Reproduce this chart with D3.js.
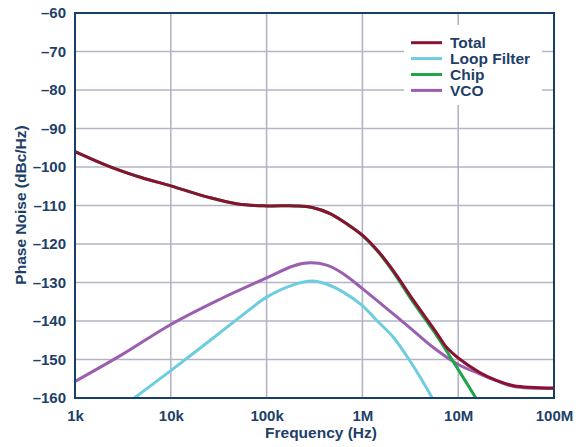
<!DOCTYPE html>
<html>
<head>
<meta charset="utf-8">
<script src="https://cdn.jsdelivr.net/npm/d3@7/dist/d3.min.js"></script>
<style>
  body { margin: 0; background: #fff; }
  svg text { font-family: "Liberation Sans", Arial, sans-serif; font-weight: bold; fill: #1d3f68; }
</style>
</head>
<body>
<svg id="chart" width="583" height="447"></svg>
<script>
// Tick values and labels
var freqTicks = [1e3, 1e4, 1e5, 1e6, 1e7, 1e8];
var freqLabels = ["1k", "10k", "100k", "1M", "10M", "100M"];
var dbTicks = [-160, -150, -140, -130, -120, -110, -100, -90, -80, -70, -60];

// Series (frequency in Hz, phase noise in dBc/Hz)
var totalFreq = [1e3, 2.3e3, 5e3, 1e4, 2.5e4, 5e4, 1e5, 2e5, 3e5, 4.6e5, 6.8e5, 1e6, 1.5e6, 2.2e6, 3.4e6, 5.7e6, 7.6e6, 1e7, 1.66e7, 2.5e7, 3.8e7, 1e8];
var totalDb   = [-96, -99.9, -102.8, -104.9, -107.9, -109.6, -110.1, -110.1, -110.5, -112.1, -114.7, -117.7, -122.2, -127.6, -134.6, -142.4, -146.9, -149.6, -153.3, -155.4, -156.8, -157.4];

var loopFreq = [4e3, 1e4, 3.16e4, 6e4, 1e5, 1.9e5, 3e5, 4.2e5, 6.3e5, 1e6, 1.38e6, 2.1e6, 3.14e6, 5.3e6, 5.6e6];
var loopDb   = [-160.3, -152.9, -143.3, -137.9, -133.8, -130.6, -129.6, -130.4, -132.5, -136, -139.6, -144.2, -150.4, -159.8, -161];

var chipFreq = [1e3, 2.3e3, 5e3, 1e4, 2.5e4, 5e4, 1e5, 2e5, 3e5, 4.6e5, 6.8e5, 1e6, 1.5e6, 2.2e6, 3.4e6, 5.6e6, 1e7, 1.6e7];
var chipDb   = [-96, -99.9, -102.8, -104.9, -107.9, -109.6, -110.1, -110.1, -110.5, -112.1, -114.7, -117.8, -122.4, -128, -135.2, -142.8, -152.6, -160.8];

var vcoFreq = [1e3, 3.16e3, 1e4, 3.16e4, 1e5, 1.9e5, 2.84e5, 4.24e5, 6.3e5, 1e6, 1.8e6, 3.14e6, 5.5e6, 1e7, 1.66e7, 2.5e7, 3.8e7, 1e8];
var vcoDb   = [-155.7, -148.6, -140.9, -134.5, -128.8, -125.7, -124.9, -125.5, -127.7, -131.6, -136.8, -141.8, -146.9, -151.3, -153.7, -155.5, -157, -157.5];

var seriesNames = ["Total", "Loop Filter", "Chip", "VCO"];
var seriesColors = ["#8a1230", "#6ccde0", "#1fa64a", "#9a5fb0"];

var margin = {top: 13, right: 29, bottom: 49, left: 75},
    width = 583 - margin.left - margin.right,
    height = 447 - margin.top - margin.bottom;

var svg = d3.select("#chart");
var g = svg.append("g").attr("transform", "translate(" + margin.left + "," + margin.top + ")");

var x = d3.scaleLog().domain([1e3, 1e8]).range([0, width]);
var y = d3.scaleLinear().domain([-160, -60]).range([height, 0]);

// gridlines
g.selectAll(".vgrid").data(freqTicks.slice(1, -1)).enter().append("line")
    .attr("x1", function(d) { return x(d); }).attr("x2", function(d) { return x(d); })
    .attr("y1", 0).attr("y2", height)
    .attr("stroke", "#b3b5c7").attr("stroke-width", 1.6);
g.selectAll(".hgrid").data(dbTicks.slice(1, -1)).enter().append("line")
    .attr("y1", function(d) { return y(d); }).attr("y2", function(d) { return y(d); })
    .attr("x1", 0).attr("x2", width)
    .attr("stroke", "#b3b5c7").attr("stroke-width", 1.6);

// legend background hides grid
g.append("rect").attr("x", 329).attr("y", 12).attr("width", 138).attr("height", 80).attr("fill", "#fff");

// curves
var line = d3.line()
    .x(function(d) { return x(d[0]); })
    .y(function(d) { return y(d[1]); })
    .curve(d3.curveCatmullRom.alpha(0.5));

g.append("clipPath").attr("id", "clip").append("rect").attr("width", width).attr("height", height);

var series = [
  d3.zip(totalFreq, totalDb),
  d3.zip(loopFreq, loopDb),
  d3.zip(chipFreq, chipDb),
  d3.zip(vcoFreq, vcoDb)
];
// draw order: loop filter, vco, chip, total on top
[1, 3, 2, 0].forEach(function(i) {
  g.append("path")
    .datum(series[i])
    .attr("clip-path", "url(#clip)")
    .attr("fill", "none")
    .attr("stroke", seriesColors[i])
    .attr("stroke-width", 3)
    .attr("d", line);
});

// frame
g.append("rect").attr("width", width).attr("height", height)
    .attr("fill", "none").attr("stroke", "#173f6a").attr("stroke-width", 2);

// axes
var xAxis = d3.axisBottom(x).tickValues(freqTicks).tickSize(0).tickPadding(12)
    .tickFormat(function(d, i) { return freqLabels[i]; });
var gx = g.append("g").attr("transform", "translate(0," + height + ")").call(xAxis);
gx.select(".domain").remove();
gx.selectAll("text").style("font-size", "15px").attr("fill", "#1d3f68");

var yAxis = d3.axisLeft(y).tickValues(dbTicks).tickSize(0).tickPadding(9)
    .tickFormat(function(d) { return "\u2013" + Math.abs(d); });
var gy = g.append("g").call(yAxis);
gy.select(".domain").remove();
gy.selectAll("text").style("font-size", "15px").attr("fill", "#1d3f68");

// axis titles
svg.append("text").attr("x", 321).attr("y", 438).attr("text-anchor", "middle")
    .style("font-size", "15.5px").text("Frequency (Hz)");
svg.append("text").attr("transform", "translate(26,205) rotate(-90)").attr("text-anchor", "middle")
    .style("font-size", "15.5px").text("Phase Noise (dBc/Hz)");

// legend
var legend = g.selectAll(".legend").data(seriesNames).enter().append("g")
    .attr("transform", function(d, i) { return "translate(336," + (29.7 + i * 15.9) + ")"; });
legend.append("line").attr("x1", 0).attr("x2", 31)
    .attr("stroke", function(d, i) { return seriesColors[i]; }).attr("stroke-width", 3);
legend.append("text").attr("x", 39).attr("y", 5.5).style("font-size", "15.5px").text(function(d) { return d; });
</script>
</body>
</html>
